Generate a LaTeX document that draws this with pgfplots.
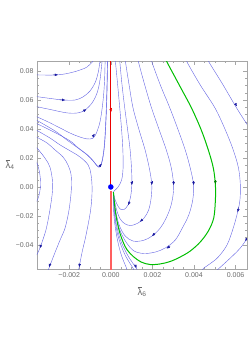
\documentclass[border=0pt]{standalone}
\usepackage{fontspec}
\setmainfont{Liberation Sans}
\usepackage{pgfplots}
\pgfplotsset{compat=1.18}
\usetikzlibrary{arrows.meta}
\definecolor{slc}{RGB}{105,105,228}
\definecolor{arc}{RGB}{25,25,160}
\definecolor{grc}{RGB}{0,190,0}
\definecolor{rdc}{RGB}{235,0,0}
\definecolor{pkc}{RGB}{255,95,95}
\definecolor{tkc}{RGB}{105,105,105}
\newcommand{\lb}[1]{\rlap{\raisebox{0.78em}{\color{tkc}\rule{0.5em}{0.35pt}}}λ\textsubscript{#1}}
\begin{document}
\begin{tikzpicture}
\useasboundingbox (-37pt,-82pt) rectangle (211pt,269pt);
\begin{axis}[
 at={(0,0)}, anchor=south west,
 scale only axis, width=210pt, height=208pt,
 xmin=-0.00355, xmax=0.00655, ymin=-0.0566, ymax=0.0869,
 axis line style={black!35},
 xtick={-0.002,0,0.002,0.004,0.006},
 xticklabels={−0.002,0.000,0.002,0.004,0.006},
 ytick={-0.04,-0.02,0,0.02,0.04,0.06,0.08},
 yticklabels={−0.04,−0.02,0.00,0.02,0.04,0.06,0.08},
 minor x tick num=3, minor y tick num=3,
 tick align=inside, major tick length=4pt, minor tick length=2pt,
 every tick/.style={black!35, line width=0.4pt},
 tick label style={font=\fontsize{7}{8}\selectfont, text=tkc},
 scaled ticks=false,
 xlabel={\lb{6}}, ylabel={\lb{4}},
 every axis x label/.style={at={(axis description cs:0.5,0)},anchor=center,yshift=-23pt,text=tkc,font=\fontsize{9.5}{11}\selectfont},
 every axis y label/.style={at={(axis description cs:0,0.5)},anchor=center,xshift=-27pt,text=tkc,font=\fontsize{9.5}{11}\selectfont},
 sline/.style={slc, line width=0.42pt, smooth, tension=0.55},
 arr/.style={arc, line width=0.3pt, -{Triangle[length=3pt,width=2.5pt]}},
]
% left family
\addplot[sline] coordinates {(-0.0036,0.0773) (-0.00259,0.0773) (-0.00196,0.0787) (-0.00148,0.0807) (-0.00114,0.0828) (-0.00085,0.0869) (-0.0007,0.09)};
\addplot[sline] coordinates {(-0.0036,0.0624) (-0.00293,0.0611) (-0.0023,0.0600) (-0.00172,0.0600) (-0.00134,0.0621) (-0.001,0.0662) (-0.00076,0.0718) (-0.00061,0.0787) (-0.00052,0.0869) (-0.00049,0.09)};
\addplot[sline] coordinates {(-0.0036,0.0555) (-0.00293,0.0535) (-0.00211,0.0511) (-0.00158,0.0511) (-0.00124,0.0531) (-0.0009,0.058) (-0.00066,0.0649) (-0.00052,0.0738) (-0.00042,0.0869) (-0.0004,0.09)};
\addplot[sline] coordinates {(-0.0036,0.0487) (-0.00302,0.0449) (-0.00244,0.0407) (-0.00187,0.0366) (-0.00134,0.0338) (-0.001,0.0331) (-0.00076,0.0352) (-0.00052,0.0449) (-0.00037,0.06) (-0.0003,0.0738) (-0.00027,0.09)};
\addplot[sline] coordinates {(-0.0036,0.0463) (-0.00268,0.0386) (-0.00211,0.0324) (-0.00158,0.0269) (-0.00114,0.0221) (-0.00085,0.0179) (-0.00066,0.0145) (-0.00052,0.0138) (-0.0004,0.0186) (-0.0003,0.029) (-0.00023,0.0462) (-0.00018,0.0669) (-0.00015,0.09)};
\addplot[sline] coordinates {(-0.0036,0.0440) (-0.00268,0.0375) (-0.00196,0.0318) (-0.00158,0.0271) (-0.00114,0.0223) (-0.00085,0.0181) (-0.00066,0.0147) (-0.00052,0.0140) (-0.00041,0.0187) (-0.00031,0.029) (-0.00024,0.0462) (-0.00019,0.0669) (-0.00016,0.09)};
\addplot[sline] coordinates {(-0.0036,0.0394) (-0.00293,0.0338) (-0.00244,0.029) (-0.00187,0.0242) (-0.00148,0.0207) (-0.00109,0.0152) (-0.00095,0.0083) (-0.0009,-0.0021) (-0.00097,-0.0159) (-0.00119,-0.0331) (-0.00138,-0.0449) (-0.00154,-0.0566) (-0.00157,-0.058)};
\addplot[sline] coordinates {(-0.0036,0.0346) (-0.00307,0.0304) (-0.00268,0.0255) (-0.0023,0.0207) (-0.00206,0.0152) (-0.00191,0.0083) (-0.0019,-0.0021) (-0.00201,-0.0159) (-0.0022,-0.0283) (-0.00244,-0.0366) (-0.00273,-0.0469) (-0.00299,-0.0566) (-0.00304,-0.058)};
\addplot[sline] coordinates {(-0.0036,0.0278) (-0.00317,0.02) (-0.00293,0.0138) (-0.00281,0.0048) (-0.00281,-0.0035) (-0.00293,-0.0159) (-0.00312,-0.0297) (-0.00341,-0.0421) (-0.00357,-0.047)};
\addplot[sline] coordinates {(-0.0036,0.0186) (-0.00343,0.0104) (-0.00338,0.0014) (-0.00346,-0.0062) (-0.0036,-0.011)};
% right family
\addplot[sline] coordinates {(0.00021,0.09) (0.00022,0.0869) (0.00033,0.0704) (0.00043,0.0545) (0.00052,0.0393) (0.00058,0.0255) (0.00059,0.0131) (0.00052,0.0048) (0.00035,0.0) (0.00021,-0.0021) (0.000125,-0.0035)};
\addplot[sline] coordinates {(0.00042,0.09) (0.00043,0.0869) (0.00054,0.0704) (0.00067,0.0545) (0.00081,0.0393) (0.00093,0.0255) (0.001,0.0117) (0.00101,0.0014) (0.00095,-0.0069) (0.00083,-0.0124) (0.00064,-0.0155) (0.00045,-0.0152) (0.00029,-0.0117) (0.00018,-0.0075) (0.000125,-0.0035)};
\addplot[sline] coordinates {(0.00069,0.09) (0.0007,0.0869) (0.00088,0.0704) (0.00107,0.0545) (0.00136,0.0393) (0.00165,0.0255) (0.00187,0.0117) (0.00197,0.0014) (0.00194,-0.0076) (0.00182,-0.0159) (0.0016,-0.0214) (0.00132,-0.0248) (0.00098,-0.0266) (0.00069,-0.0255) (0.00045,-0.0221) (0.00028,-0.0159) (0.00018,-0.0097) (0.000125,-0.0035)};
\addplot[sline] coordinates {(0.0013,0.09) (0.00132,0.0869) (0.00163,0.0704) (0.00196,0.0545) (0.00233,0.0393) (0.00267,0.0255) (0.00291,0.0131) (0.00302,0.0014) (0.00298,-0.0069) (0.00286,-0.0145) (0.00264,-0.0221) (0.00238,-0.0283) (0.00199,-0.0338) (0.00156,-0.0369) (0.00107,-0.0373) (0.00069,-0.0338) (0.00042,-0.0269) (0.00026,-0.0186) (0.00017,-0.011) (0.000125,-0.0035)};
\addplot[sline] coordinates {(0.00194,0.09) (0.00196,0.0869) (0.00238,0.0704) (0.00284,0.0545) (0.00324,0.0393) (0.00358,0.0255) (0.00382,0.0131) (0.00398,0.0014) (0.00394,-0.009) (0.00375,-0.0193) (0.00344,-0.0283) (0.0031,-0.0366) (0.00262,-0.0421) (0.00214,-0.0449) (0.0016,-0.0459) (0.00112,-0.0442) (0.00076,-0.0386) (0.00047,-0.031) (0.00028,-0.0221) (0.00018,-0.0138) (0.000125,-0.0035)};
\addplot[sline] coordinates {(0.0036,0.09) (0.00364,0.0869) (0.0043,0.0704) (0.00501,0.0545) (0.00551,0.0393) (0.00589,0.0255) (0.00614,0.0131) (0.00623,0.0014) (0.00621,-0.009) (0.0061,-0.0173) (0.00589,-0.0283) (0.00559,-0.04) (0.00517,-0.0483) (0.00479,-0.0528) (0.00446,-0.0561) (0.00438,-0.058)};
\addplot[sline] coordinates {(0.00463,0.09) (0.00469,0.0869) (0.00537,0.0711) (0.00605,0.0545) (0.00657,0.0428) (0.0067,0.04)};
\addplot[sline] coordinates {(0.0067,-0.033) (0.00657,-0.0352) (0.00623,-0.0421) (0.00575,-0.049) (0.00517,-0.0566) (0.00505,-0.058)};
\addplot[sline] coordinates {(0.00077,-0.058) (0.00077,-0.0566) (0.00052,-0.0476) (0.00035,-0.0386) (0.00025,-0.031) (0.00017,-0.0228) (0.00013,-0.0145) (0.000125,-0.0035)};
\addplot[sline] coordinates {(0.0011,-0.058) (0.00109,-0.0566) (0.00071,-0.0476) (0.00045,-0.0386) (0.0003,-0.031) (0.00021,-0.0228) (0.00015,-0.0145) (0.000125,-0.0035)};
\addplot[sline] coordinates {(0.00127,-0.058) (0.00125,-0.0566) (0.00083,-0.0476) (0.00052,-0.0386) (0.00035,-0.031) (0.00023,-0.0228) (0.00016,-0.0145) (0.000125,-0.0035)};
% green separatrix
\addplot[grc, line width=1pt, smooth, tension=0.55] coordinates {(0.00265,0.09) (0.00268,0.0869) (0.00329,0.0704) (0.00388,0.0545) (0.00435,0.0393) (0.00469,0.0255) (0.00493,0.0131) (0.00503,0.0014) (0.00503,-0.009) (0.00495,-0.0214) (0.00469,-0.0304) (0.0043,-0.038) (0.00382,-0.0442) (0.00334,-0.0483) (0.00286,-0.0514) (0.00238,-0.0531) (0.00189,-0.0535) (0.00146,-0.0518) (0.00109,-0.0481) (0.00079,-0.0435) (0.00061,-0.0386) (0.00042,-0.031) (0.00029,-0.0228) (0.0002,-0.0145) (0.000125,-0.0035)};
% red invariant line
\addplot[pkc, line width=1.6pt] coordinates {(0,-0.003) (0,-0.058)};
\addplot[rdc, line width=1.1pt] coordinates {(0,0.09) (0,0.0)};
\addplot[rdc, line width=0.3pt, -{Triangle[length=3pt,width=2.6pt]}] coordinates {(0,0.0545) (0,0.0515)};
% arrows
\addplot[arr] coordinates {(-0.0028,0.0773) (-0.00255,0.0774)};
\addplot[arr] coordinates {(-0.00245,0.0601) (-0.0022,0.0600)};
\addplot[arr] coordinates {(-0.00135,0.0522) (-0.00118,0.0535)};
\addplot[arr] coordinates {(-0.000877,0.0345) (-0.00078,0.0366)};
\addplot[arr] coordinates {(-0.000564,0.0138) (-0.000443,0.0159)};
\addplot[arr] coordinates {(-0.00149,-0.0524) (-0.00152,-0.0552)};
\addplot[arr] coordinates {(-0.0029,-0.0524) (-0.00297,-0.0552)};
\addplot[arr] coordinates {(-0.00335,-0.0397) (-0.00341,-0.0421)};
\addplot[arr] coordinates {(0.00101,0.0041) (0.00101,0.0014)};
\addplot[arr] coordinates {(0.00091,-0.0100) (0.00083,-0.0124)};
\addplot[arr] coordinates {(0.00197,0.0041) (0.00197,0.0014)};
\addplot[arr] coordinates {(0.00153,-0.0224) (0.00141,-0.0239)};
\addplot[arr] coordinates {(0.00302,0.0041) (0.00302,0.0014)};
\addplot[arr] coordinates {(0.00214,-0.0317) (0.00199,-0.0338)};
\addplot[arr] coordinates {(0.00398,0.0041) (0.00398,0.0014)};
\addplot[arr] coordinates {(0.00286,-0.0407) (0.00269,-0.0424)};
\addplot[arr] coordinates {(0.00616,-0.0138) (0.0061,-0.0173)};
\addplot[arr] coordinates {(0.00597,0.058) (0.00606,0.0557)};
\addplot[arr] coordinates {(0.00654,-0.0357) (0.00647,-0.0373)};
\addplot[arr] coordinates {(0.00115,-0.0531) (0.00123,-0.0559)};
\addplot[green!50!black, line width=0.3pt, -{Triangle[length=3pt,width=2.5pt]}] coordinates {(0.00503,0.0048) (0.00503,0.0021)};
% fixed point
\addplot[only marks, mark=*, mark size=2.5pt, color=blue] coordinates {(0,0)};
\end{axis}
\end{tikzpicture}
\end{document}
